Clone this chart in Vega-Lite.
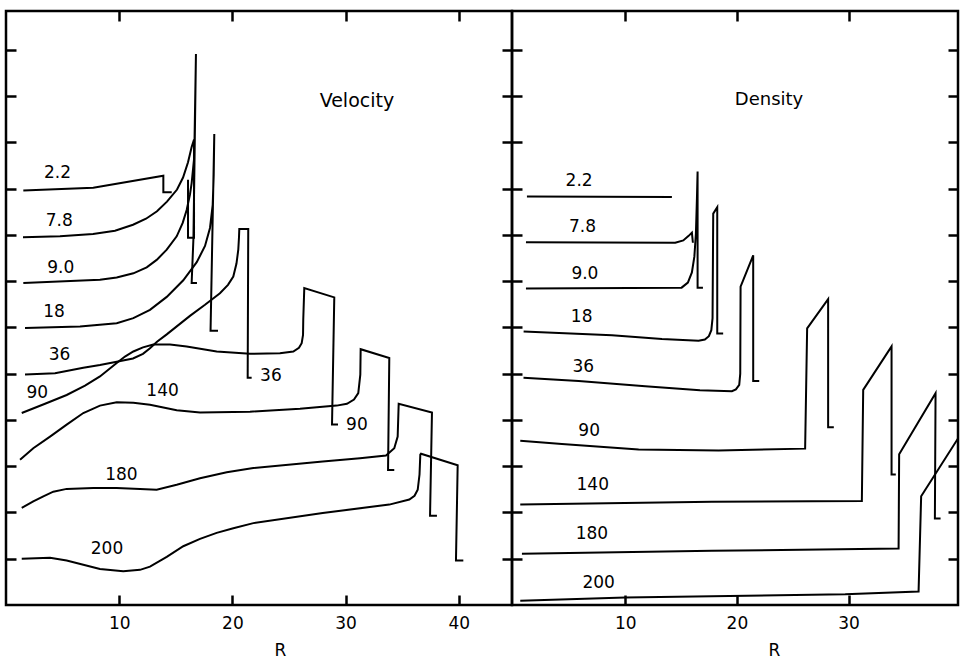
{
  "$schema": "https://vega.github.io/schema/vega-lite/v6.json",
  "padding": {"left": 3, "top": 8, "right": 0, "bottom": 0},
  "background": "white",
  "spacing": 0,
  "bounds": "flush",
  "config": {
    "view": {"stroke": "black", "strokeWidth": 2.5},
    "axis": {"grid": false, "domain": false, "tickColor": "black", "tickWidth": 2.5, "tickSize": -10, "labelFont": "DejaVu Sans", "labelFontSize": 17, "labelColor": "black", "titleFont": "DejaVu Sans", "titleFontSize": 17, "titleFontWeight": "normal", "titleColor": "black"},
    "text": {"font": "DejaVu Sans", "fontSize": 17, "color": "black"},
    "line": {"color": "black", "strokeWidth": 2}
  },
  "datasets": {
    "vel": [
      {"s":"2.2","x":1.53,"y":8.96},{"s":"2.2","x":7.71,"y":9.02},{"s":"2.2","x":13.90,"y":9.28},{"s":"2.2","x":13.90,"y":8.92},{"s":"2.2","x":14.64,"y":8.92},
      {"s":"7.8","x":1.50,"y":7.95},{"s":"7.8","x":4.77,"y":7.97},{"s":"7.8","x":7.69,"y":8.02},{"s":"7.8","x":9.63,"y":8.09},{"s":"7.8","x":11.22,"y":8.22},{"s":"7.8","x":12.37,"y":8.35},{"s":"7.8","x":13.34,"y":8.51},{"s":"7.8","x":14.22,"y":8.72},{"s":"7.8","x":15.11,"y":8.98},{"s":"7.8","x":15.64,"y":9.24},{"s":"7.8","x":16.08,"y":9.57},{"s":"7.8","x":16.40,"y":9.90},{"s":"7.8","x":16.61,"y":10.06},{"s":"7.8","x":16.61,"y":7.94},{"s":"7.8","x":16.08,"y":7.94},{"s":"7.8","x":16.08,"y":9.19},
      {"s":"9.0","x":1.53,"y":6.96},{"s":"9.0","x":8.30,"y":7.03},{"s":"9.0","x":9.78,"y":7.08},{"s":"9.0","x":11.25,"y":7.17},{"s":"9.0","x":12.43,"y":7.30},{"s":"9.0","x":13.31,"y":7.46},{"s":"9.0","x":14.20,"y":7.68},{"s":"9.0","x":15.08,"y":7.97},{"s":"9.0","x":15.61,"y":8.26},{"s":"9.0","x":15.96,"y":8.54},{"s":"9.0","x":16.25,"y":8.87},{"s":"9.0","x":16.40,"y":9.12},{"s":"9.0","x":16.63,"y":9.69},{"s":"9.0","x":16.78,"y":11.91},{"s":"9.0","x":16.56,"y":7.94},{"s":"9.0","x":16.40,"y":6.96},{"s":"9.0","x":16.87,"y":6.96},
      {"s":"18","x":1.68,"y":5.99},{"s":"18","x":6.54,"y":6.02},{"s":"18","x":9.78,"y":6.09},{"s":"18","x":11.25,"y":6.20},{"s":"18","x":12.72,"y":6.38},{"s":"18","x":14.20,"y":6.66},{"s":"18","x":15.66,"y":7.02},{"s":"18","x":16.85,"y":7.41},{"s":"18","x":17.58,"y":7.76},{"s":"18","x":18.02,"y":8.15},{"s":"18","x":18.26,"y":8.65},{"s":"18","x":18.35,"y":9.30},{"s":"18","x":18.40,"y":10.18},{"s":"18","x":18.07,"y":5.93},{"s":"18","x":18.73,"y":5.93},
      {"s":"36","x":1.68,"y":4.98},{"s":"36","x":4.33,"y":5.01},{"s":"36","x":6.83,"y":5.13},{"s":"36","x":8.30,"y":5.19},{"s":"36","x":9.78,"y":5.26},{"s":"36","x":11.22,"y":5.33},{"s":"36","x":12.10,"y":5.43},{"s":"36","x":12.72,"y":5.55},{"s":"36","x":13.34,"y":5.69},{"s":"36","x":14.20,"y":5.85},{"s":"36","x":16.25,"y":6.25},{"s":"36","x":17.58,"y":6.49},{"s":"36","x":18.90,"y":6.74},{"s":"36","x":19.61,"y":6.92},{"s":"36","x":20.08,"y":7.10},{"s":"36","x":20.36,"y":7.38},{"s":"36","x":20.52,"y":7.68},{"s":"36","x":20.58,"y":7.94},{"s":"36","x":20.61,"y":8.13},{"s":"36","x":21.40,"y":8.13},{"s":"36","x":21.35,"y":4.91},{"s":"36","x":21.70,"y":4.91},
      {"s":"90","x":1.39,"y":4.15},{"s":"90","x":3.45,"y":4.35},{"s":"90","x":5.36,"y":4.54},{"s":"90","x":6.98,"y":4.74},{"s":"90","x":8.30,"y":4.94},{"s":"90","x":9.78,"y":5.23},{"s":"90","x":10.51,"y":5.37},{"s":"90","x":11.25,"y":5.48},{"s":"90","x":12.10,"y":5.57},{"s":"90","x":13.01,"y":5.63},{"s":"90","x":14.49,"y":5.63},{"s":"90","x":15.96,"y":5.59},{"s":"90","x":18.61,"y":5.48},{"s":"90","x":21.55,"y":5.43},{"s":"90","x":24.20,"y":5.44},{"s":"90","x":25.38,"y":5.48},{"s":"90","x":25.88,"y":5.56},{"s":"90","x":26.12,"y":5.66},{"s":"90","x":26.24,"y":5.84},{"s":"90","x":26.26,"y":6.17},{"s":"90","x":26.35,"y":6.85},{"s":"90","x":29.00,"y":6.65},{"s":"90","x":28.80,"y":3.90},{"s":"90","x":29.33,"y":3.90},
      {"s":"140","x":1.24,"y":3.14},{"s":"140","x":2.41,"y":3.39},{"s":"140","x":3.89,"y":3.64},{"s":"140","x":5.36,"y":3.90},{"s":"140","x":6.83,"y":4.15},{"s":"140","x":8.30,"y":4.31},{"s":"140","x":9.78,"y":4.38},{"s":"140","x":11.25,"y":4.37},{"s":"140","x":12.72,"y":4.33},{"s":"140","x":15.08,"y":4.21},{"s":"140","x":17.14,"y":4.16},{"s":"140","x":21.55,"y":4.18},{"s":"140","x":25.97,"y":4.24},{"s":"140","x":29.21,"y":4.31},{"s":"140","x":30.12,"y":4.35},{"s":"140","x":30.74,"y":4.44},{"s":"140","x":31.12,"y":4.58},{"s":"140","x":31.30,"y":4.98},{"s":"140","x":31.33,"y":5.53},{"s":"140","x":33.86,"y":5.34},{"s":"140","x":33.75,"y":2.92},{"s":"140","x":34.30,"y":2.92},
      {"s":"180","x":1.39,"y":2.10},{"s":"180","x":2.41,"y":2.24},{"s":"180","x":3.30,"y":2.35},{"s":"180","x":4.18,"y":2.45},{"s":"180","x":5.36,"y":2.51},{"s":"180","x":7.71,"y":2.53},{"s":"180","x":9.78,"y":2.53},{"s":"180","x":11.84,"y":2.51},{"s":"180","x":13.31,"y":2.49},{"s":"180","x":15.08,"y":2.60},{"s":"180","x":17.14,"y":2.74},{"s":"180","x":19.50,"y":2.87},{"s":"180","x":21.85,"y":2.96},{"s":"180","x":27.98,"y":3.10},{"s":"180","x":31.27,"y":3.17},{"s":"180","x":33.57,"y":3.23},{"s":"180","x":34.30,"y":3.39},{"s":"180","x":34.60,"y":3.64},{"s":"180","x":34.69,"y":4.35},{"s":"180","x":37.63,"y":4.16},{"s":"180","x":37.46,"y":1.93},{"s":"180","x":38.07,"y":1.93},
      {"s":"200","x":1.39,"y":1.00},{"s":"200","x":3.89,"y":1.02},{"s":"200","x":5.36,"y":0.96},{"s":"200","x":6.83,"y":0.87},{"s":"200","x":8.30,"y":0.78},{"s":"200","x":10.36,"y":0.73},{"s":"200","x":11.84,"y":0.76},{"s":"200","x":12.72,"y":0.83},{"s":"200","x":14.20,"y":1.04},{"s":"200","x":15.66,"y":1.27},{"s":"200","x":17.14,"y":1.43},{"s":"200","x":18.61,"y":1.56},{"s":"200","x":20.08,"y":1.66},{"s":"200","x":21.85,"y":1.77},{"s":"200","x":27.98,"y":1.99},{"s":"200","x":33.86,"y":2.17},{"s":"200","x":35.63,"y":2.28},{"s":"200","x":36.09,"y":2.36},{"s":"200","x":36.37,"y":2.49},{"s":"200","x":36.53,"y":2.82},{"s":"200","x":36.60,"y":3.25},{"s":"200","x":36.66,"y":3.27},{"s":"200","x":39.90,"y":3.02},{"s":"200","x":39.75,"y":0.96},{"s":"200","x":40.40,"y":0.96}
    ],
    "den": [
      {"s":"2.2","x":1.20,"y":8.83},{"s":"2.2","x":14.18,"y":8.82},
      {"s":"7.8","x":1.11,"y":7.84},{"s":"7.8","x":14.48,"y":7.83},{"s":"7.8","x":15.20,"y":7.88},{"s":"7.8","x":15.68,"y":7.98},{"s":"7.8","x":15.97,"y":8.05},{"s":"7.8","x":16.06,"y":7.83},
      {"s":"9.0","x":1.11,"y":6.84},{"s":"9.0","x":15.05,"y":6.86},{"s":"9.0","x":15.61,"y":6.97},{"s":"9.0","x":15.97,"y":7.19},{"s":"9.0","x":16.19,"y":7.53},{"s":"9.0","x":16.33,"y":8.03},{"s":"9.0","x":16.42,"y":8.78},{"s":"9.0","x":16.48,"y":9.37},{"s":"9.0","x":16.48,"y":6.86},{"s":"9.0","x":16.96,"y":6.86},
      {"s":"18","x":0.90,"y":5.91},{"s":"18","x":8.81,"y":5.83},{"s":"18","x":13.29,"y":5.75},{"s":"18","x":16.57,"y":5.71},{"s":"18","x":17.13,"y":5.74},{"s":"18","x":17.49,"y":5.81},{"s":"18","x":17.71,"y":5.94},{"s":"18","x":17.82,"y":6.20},{"s":"18","x":17.88,"y":8.46},{"s":"18","x":18.24,"y":8.60},{"s":"18","x":18.24,"y":5.87},{"s":"18","x":18.77,"y":5.87},
      {"s":"36","x":0.89,"y":4.91},{"s":"36","x":5.83,"y":4.84},{"s":"36","x":11.79,"y":4.73},{"s":"36","x":16.69,"y":4.64},{"s":"36","x":19.55,"y":4.62},{"s":"36","x":19.91,"y":4.66},{"s":"36","x":20.21,"y":4.76},{"s":"36","x":20.30,"y":5.00},{"s":"36","x":20.33,"y":6.88},{"s":"36","x":21.46,"y":7.56},{"s":"36","x":21.46,"y":4.84},{"s":"36","x":22.00,"y":4.84},
      {"s":"90","x":0.60,"y":3.55},{"s":"90","x":4.33,"y":3.48},{"s":"90","x":11.20,"y":3.36},{"s":"90","x":18.36,"y":3.34},{"s":"90","x":26.11,"y":3.38},{"s":"90","x":26.29,"y":5.98},{"s":"90","x":28.17,"y":6.61},{"s":"90","x":28.17,"y":3.84},{"s":"90","x":28.68,"y":3.84},
      {"s":"140","x":0.60,"y":2.17},{"s":"140","x":17.76,"y":2.23},{"s":"140","x":31.19,"y":2.25},{"s":"140","x":31.31,"y":4.65},{"s":"140","x":33.85,"y":5.59},{"s":"140","x":33.85,"y":2.82},{"s":"140","x":34.23,"y":2.82},
      {"s":"180","x":0.75,"y":1.11},{"s":"180","x":17.76,"y":1.17},{"s":"180","x":34.48,"y":1.22},{"s":"180","x":34.53,"y":3.26},{"s":"180","x":37.79,"y":4.58},{"s":"180","x":37.73,"y":1.87},{"s":"180","x":38.24,"y":1.87},
      {"s":"200","x":0.60,"y":0.09},{"s":"200","x":10.00,"y":0.16},{"s":"200","x":29.70,"y":0.23},{"s":"200","x":36.27,"y":0.29},{"s":"200","x":36.50,"y":2.35},{"s":"200","x":39.80,"y":3.60}
    ],
    "vlab": [
      {"t":"2.2","x":4.55,"y":9.34},{"t":"7.8","x":4.70,"y":8.29},{"t":"9.0","x":4.84,"y":7.28},{"t":"18","x":4.25,"y":6.34},{"t":"36","x":4.73,"y":5.41},{"t":"90","x":2.76,"y":4.58},{"t":"140","x":13.83,"y":4.62},{"t":"180","x":10.19,"y":2.81},{"t":"200","x":8.92,"y":1.22},{"t":"36","x":23.4,"y":4.94},{"t":"90","x":31.0,"y":3.90}
    ],
    "dlab": [
      {"t":"2.2","x":5.87,"y":9.17},{"t":"7.8","x":6.17,"y":8.17},{"t":"9.0","x":6.39,"y":7.16},{"t":"18","x":6.10,"y":6.23},{"t":"36","x":6.24,"y":5.15},{"t":"90","x":6.77,"y":3.77},{"t":"140","x":7.09,"y":2.60},{"t":"180","x":7.02,"y":1.53},{"t":"200","x":7.62,"y":0.48}
    ]
  },
  "hconcat": [
    {
      "width": 506,
      "height": 594,
      "layer": [
        {
          "data": {"name": "vel"},
          "mark": {"type": "line", "clip": true},
          "encoding": {
            "x": {"field": "x", "type": "quantitative", "scale": {"domain": [0, 44.7], "nice": false, "zero": false}, "axis": {"orient": "bottom", "values": [10, 20, 30, 40], "title": "R", "labelPadding": 33, "labelBaseline": "alphabetic", "titleX": 274, "titleY": 50, "titleBaseline": "alphabetic"}},
            "y": {"field": "y", "type": "quantitative", "scale": {"domain": [0, 12.84], "nice": false, "zero": false}, "axis": {"orient": "left", "values": [1,2,3,4,5,6,7,8,9,10,11,12], "labels": false, "title": null}},
            "detail": {"field": "s"},
            "order": {"value": null}
          }
        },
        {
          "data": {"name": "vlab"},
          "mark": {"type": "text"},
          "encoding": {
            "x": {"field": "x", "type": "quantitative", "scale": {"domain": [0, 44.7], "nice": false, "zero": false}, "axis": {"orient": "top", "values": [10, 20, 30, 40], "labels": false, "title": null}},
            "y": {"field": "y", "type": "quantitative", "scale": {"domain": [0, 12.84], "nice": false, "zero": false}, "axis": {"orient": "right", "values": [1,2,3,4,5,6,7,8,9,10,11,12], "labels": false, "title": null}},
            "text": {"field": "t"}
          }
        },
        {
          "data": {"values": [{"t": "Velocity", "x": 31.0, "y": 10.9}]},
          "mark": {"type": "text", "fontSize": 19},
          "encoding": {
            "x": {"field": "x", "type": "quantitative", "axis": null},
            "y": {"field": "y", "type": "quantitative", "axis": null},
            "text": {"field": "t"}
          }
        }
      ],
      "resolve": {"axis": {"x": "independent", "y": "independent"}}
    },
    {
      "width": 446,
      "height": 594,
      "layer": [
        {
          "data": {"name": "den"},
          "mark": {"type": "line", "clip": true},
          "encoding": {
            "x": {"field": "x", "type": "quantitative", "scale": {"domain": [-0.14, 39.8], "nice": false, "zero": false}, "axis": {"orient": "bottom", "values": [10, 20, 30], "title": "R", "labelPadding": 33, "labelBaseline": "alphabetic", "titleX": 262, "titleY": 50, "titleBaseline": "alphabetic"}},
            "y": {"field": "y", "type": "quantitative", "scale": {"domain": [0, 12.84], "nice": false, "zero": false}, "axis": {"orient": "left", "values": [1,2,3,4,5,6,7,8,9,10,11,12], "labels": false, "title": null}},
            "detail": {"field": "s"},
            "order": {"value": null}
          }
        },
        {
          "data": {"name": "dlab"},
          "mark": {"type": "text"},
          "encoding": {
            "x": {"field": "x", "type": "quantitative", "scale": {"domain": [-0.14, 39.8], "nice": false, "zero": false}, "axis": {"orient": "top", "values": [10, 20, 30], "labels": false, "title": null}},
            "y": {"field": "y", "type": "quantitative", "scale": {"domain": [0, 12.84], "nice": false, "zero": false}, "axis": {"orient": "right", "values": [1,2,3,4,5,6,7,8,9,10,11,12], "labels": false, "title": null}},
            "text": {"field": "t"}
          }
        },
        {
          "data": {"values": [{"t": "Density", "x": 22.88, "y": 10.92}]},
          "mark": {"type": "text", "fontSize": 18},
          "encoding": {
            "x": {"field": "x", "type": "quantitative", "axis": null},
            "y": {"field": "y", "type": "quantitative", "axis": null},
            "text": {"field": "t"}
          }
        }
      ],
      "resolve": {"axis": {"x": "independent", "y": "independent"}}
    }
  ]
}
